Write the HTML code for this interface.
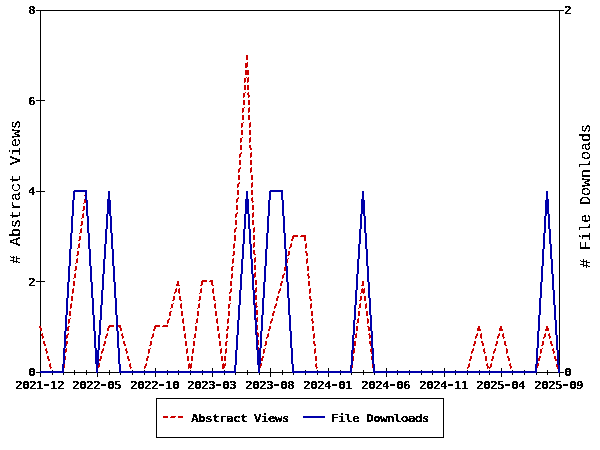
<!DOCTYPE html>
<html><head><meta charset="utf-8"><title>Abstract Views and File Downloads</title>
<style>html,body{margin:0;padding:0;background:#fff;width:600px;height:450px;overflow:hidden}svg{display:block}</style>
</head><body>
<svg width="600" height="450" viewBox="0 0 600 450">
<style>.t{font-family:'DejaVu Sans Mono',monospace;font-weight:bold;font-size:11.2px;letter-spacing:-0.656px;fill:#000}.l{font-family:'Liberation Mono',monospace;font-size:15px;fill:#000}</style>
<defs><filter id="c" color-interpolation-filters="sRGB"><feComponentTransfer><feFuncA type="discrete" tableValues="0 0 1 1 1"/></feComponentTransfer></filter><filter id="d" color-interpolation-filters="sRGB"><feComponentTransfer><feFuncA type="discrete" tableValues="0 0 1 1 1"/></feComponentTransfer></filter></defs>
<rect width="600" height="450" fill="#fff"/>
<path fill="#000" shape-rendering="crispEdges" d="M36 10h528v1h-528zM40 11h1v89h-1zM559 11h1v361h-1zM36 100h9v1h-9zM40 101h1v90h-1zM36 191h9v1h-9zM40 192h1v89h-1zM36 281h9v1h-9zM40 282h1v90h-1zM97 368h1v4h-1zM155 368h1v4h-1zM212 368h1v4h-1zM270 368h1v4h-1zM328 368h1v4h-1zM386 368h1v4h-1zM444 368h1v4h-1zM501 368h1v4h-1zM52 370h1v2h-1zM63 370h1v2h-1zM74 370h1v2h-1zM86 370h1v2h-1zM109 370h1v2h-1zM120 370h1v2h-1zM132 370h1v2h-1zM144 370h1v2h-1zM167 370h1v2h-1zM178 370h1v2h-1zM190 370h1v2h-1zM202 370h1v2h-1zM224 370h1v2h-1zM235 370h1v2h-1zM247 370h1v2h-1zM259 370h1v2h-1zM282 370h1v2h-1zM293 370h1v2h-1zM305 370h1v2h-1zM317 370h1v2h-1zM340 370h1v2h-1zM351 370h1v2h-1zM363 370h1v2h-1zM374 370h1v2h-1zM397 370h1v2h-1zM409 370h1v2h-1zM421 370h1v2h-1zM432 370h1v2h-1zM455 370h1v2h-1zM467 370h1v2h-1zM479 370h1v2h-1zM489 370h1v2h-1zM512 370h1v2h-1zM524 370h1v2h-1zM536 370h1v2h-1zM547 370h1v2h-1zM36 372h528v1h-528zM40 373h1v4h-1zM52 373h1v2h-1zM63 373h1v2h-1zM74 373h1v2h-1zM86 373h1v2h-1zM97 373h1v4h-1zM109 373h1v2h-1zM120 373h1v2h-1zM132 373h1v2h-1zM144 373h1v2h-1zM155 373h1v4h-1zM167 373h1v2h-1zM178 373h1v2h-1zM190 373h1v2h-1zM202 373h1v2h-1zM212 373h1v4h-1zM224 373h1v2h-1zM235 373h1v2h-1zM247 373h1v2h-1zM259 373h1v2h-1zM270 373h1v4h-1zM282 373h1v2h-1zM293 373h1v2h-1zM305 373h1v2h-1zM317 373h1v2h-1zM328 373h1v4h-1zM340 373h1v2h-1zM351 373h1v2h-1zM363 373h1v2h-1zM374 373h1v2h-1zM386 373h1v4h-1zM397 373h1v2h-1zM409 373h1v2h-1zM421 373h1v2h-1zM432 373h1v2h-1zM444 373h1v4h-1zM455 373h1v2h-1zM467 373h1v2h-1zM479 373h1v2h-1zM489 373h1v2h-1zM501 373h1v4h-1zM512 373h1v2h-1zM524 373h1v2h-1zM536 373h1v2h-1zM547 373h1v2h-1zM559 373h1v4h-1zM156 398h288v1h-288zM156 399h1v38h-1zM443 399h1v38h-1zM156 437h288v1h-288z"/>
<path fill="#cc0000" shape-rendering="crispEdges" d="M246 55h2v5h-2zM247 62h1v1h-1zM245 63h3v4h-3zM245 67h2v1h-2zM245 70h4v5h-4zM246 77h1v1h-1zM248 77h1v1h-1zM244 78h2v4h-2zM247 78h2v4h-2zM244 82h1v1h-1zM247 82h1v1h-1zM244 85h2v5h-2zM247 85h2v5h-2zM245 92h1v1h-1zM248 92h1v1h-1zM243 93h2v4h-2zM247 93h2v2h-2zM248 95h2v2h-2zM243 97h1v1h-1zM248 97h1v1h-1zM243 100h2v5h-2zM248 100h2v5h-2zM244 107h1v1h-1zM249 107h1v1h-1zM242 108h2v4h-2zM248 108h2v4h-2zM242 112h1v1h-1zM248 112h1v1h-1zM242 115h2v5h-2zM248 115h2v5h-2zM243 122h1v1h-1zM250 122h1v1h-1zM241 123h2v4h-2zM249 123h2v4h-2zM241 127h1v1h-1zM249 127h1v1h-1zM241 130h2v5h-2zM249 130h2v5h-2zM242 137h1v1h-1zM250 137h1v1h-1zM240 138h2v4h-2zM249 138h2v4h-2zM240 142h1v1h-1zM249 142h1v1h-1zM240 145h2v5h-2zM249 145h2v3h-2zM250 148h2v2h-2zM241 152h1v1h-1zM251 152h1v1h-1zM240 153h2v1h-2zM250 153h2v4h-2zM239 154h2v3h-2zM239 157h1v1h-1zM250 157h1v1h-1zM239 160h2v5h-2zM250 160h2v5h-2zM240 167h1v1h-1zM251 167h1v1h-1zM239 168h2v1h-2zM250 168h2v4h-2zM238 169h2v3h-2zM238 172h1v1h-1zM250 172h1v1h-1zM238 175h2v5h-2zM251 175h2v5h-2zM239 182h1v1h-1zM252 182h1v1h-1zM238 183h2v1h-2zM251 183h2v4h-2zM237 184h2v3h-2zM237 187h1v1h-1zM251 187h1v1h-1zM237 190h2v5h-2zM251 190h2v5h-2zM85 191h2v4h-2zM84 195h3v1h-3zM238 197h1v1h-1zM252 197h1v1h-1zM85 198h2v1h-2zM237 198h2v1h-2zM251 198h2v3h-2zM84 199h3v1h-3zM236 199h2v3h-2zM84 200h4v3h-4zM252 201h2v1h-2zM236 202h1v1h-1zM252 202h1v1h-1zM83 203h1v1h-1zM86 203h1v1h-1zM236 205h2v5h-2zM252 205h2v5h-2zM83 206h2v4h-2zM86 206h2v5h-2zM82 210h2v1h-2zM237 212h1v1h-1zM253 212h1v1h-1zM83 213h1v1h-1zM87 213h1v1h-1zM236 213h2v1h-2zM252 213h2v4h-2zM82 214h2v4h-2zM86 214h2v2h-2zM235 214h2v3h-2zM87 216h2v2h-2zM235 217h1v1h-1zM252 217h1v1h-1zM81 218h1v1h-1zM87 218h1v1h-1zM235 220h2v5h-2zM252 220h2v5h-2zM81 221h2v4h-2zM87 221h2v5h-2zM80 225h2v1h-2zM236 227h1v1h-1zM254 227h1v1h-1zM81 228h1v1h-1zM88 228h1v1h-1zM235 228h2v1h-2zM253 228h2v4h-2zM80 229h2v4h-2zM87 229h2v4h-2zM234 229h2v3h-2zM234 232h1v1h-1zM253 232h1v1h-1zM79 233h1v1h-1zM88 233h1v1h-1zM234 235h2v6h-2zM253 235h2v5h-2zM293 235h5v1h-5zM301 235h5v1h-5zM79 236h2v4h-2zM88 236h2v5h-2zM292 236h6v1h-6zM300 236h6v1h-6zM292 237h2v2h-2zM304 237h2v4h-2zM291 239h2v2h-2zM78 240h2v1h-2zM254 242h1v1h-1zM79 243h1v1h-1zM89 243h1v1h-1zM234 243h1v1h-1zM253 243h2v4h-2zM291 243h1v1h-1zM306 243h1v1h-1zM78 244h2v4h-2zM88 244h2v4h-2zM233 244h2v4h-2zM290 244h2v3h-2zM305 244h2v4h-2zM253 247h1v1h-1zM289 247h2v1h-2zM77 248h1v1h-1zM88 248h1v1h-1zM233 248h1v1h-1zM289 248h1v1h-1zM305 248h1v1h-1zM253 250h2v4h-2zM77 251h2v4h-2zM89 251h2v5h-2zM233 251h2v4h-2zM288 251h2v4h-2zM305 251h2v2h-2zM306 253h2v3h-2zM254 254h2v1h-2zM76 255h2v1h-2zM232 255h2v1h-2zM287 255h2v1h-2zM255 257h1v1h-1zM77 258h1v1h-1zM90 258h1v1h-1zM233 258h1v1h-1zM254 258h2v4h-2zM288 258h1v1h-1zM307 258h1v1h-1zM76 259h2v4h-2zM89 259h2v4h-2zM232 259h2v4h-2zM286 259h2v4h-2zM306 259h2v4h-2zM254 262h1v1h-1zM75 263h1v1h-1zM89 263h1v1h-1zM232 263h1v1h-1zM285 263h1v1h-1zM306 263h1v1h-1zM254 265h2v5h-2zM75 266h2v4h-2zM90 266h2v5h-2zM232 266h2v1h-2zM285 266h2v1h-2zM307 266h2v5h-2zM231 267h2v4h-2zM284 267h2v4h-2zM74 270h2v1h-2zM255 272h1v1h-1zM75 273h1v1h-1zM91 273h1v1h-1zM232 273h1v1h-1zM254 273h2v4h-2zM284 273h1v1h-1zM308 273h1v1h-1zM74 274h2v4h-2zM90 274h2v4h-2zM231 274h2v4h-2zM283 274h2v1h-2zM307 274h2v2h-2zM282 275h2v3h-2zM308 276h2v2h-2zM254 277h1v1h-1zM73 278h1v1h-1zM90 278h1v1h-1zM231 278h1v1h-1zM282 278h1v1h-1zM308 278h1v1h-1zM202 280h5v1h-5zM210 280h3v1h-3zM255 280h2v5h-2zM73 281h2v5h-2zM90 281h2v1h-2zM177 281h2v3h-2zM201 281h6v1h-6zM209 281h4v1h-4zM230 281h2v5h-2zM281 281h2v2h-2zM308 281h2v5h-2zM362 281h2v4h-2zM91 282h2v4h-2zM201 282h2v3h-2zM211 282h2v3h-2zM280 283h2v3h-2zM176 284h3v1h-3zM176 285h4v1h-4zM200 285h2v1h-2zM212 285h2v1h-2zM361 285h3v1h-3zM256 287h1v1h-1zM73 288h1v1h-1zM92 288h1v1h-1zM176 288h1v1h-1zM179 288h1v1h-1zM201 288h1v1h-1zM213 288h1v1h-1zM231 288h1v1h-1zM255 288h2v4h-2zM280 288h1v1h-1zM310 288h1v1h-1zM362 288h1v1h-1zM364 288h1v1h-1zM72 289h2v4h-2zM91 289h2v4h-2zM175 289h2v3h-2zM178 289h2v4h-2zM200 289h2v4h-2zM212 289h2v4h-2zM230 289h2v3h-2zM279 289h2v2h-2zM309 289h2v4h-2zM361 289h4v4h-4zM278 291h2v2h-2zM174 292h2v1h-2zM229 292h2v1h-2zM255 292h1v1h-1zM72 293h1v1h-1zM91 293h1v1h-1zM174 293h1v1h-1zM179 293h1v1h-1zM199 293h1v1h-1zM213 293h1v1h-1zM229 293h1v1h-1zM278 293h1v1h-1zM309 293h1v1h-1zM360 293h1v1h-1zM363 293h1v1h-1zM255 295h2v5h-2zM71 296h2v5h-2zM91 296h2v2h-2zM173 296h2v4h-2zM179 296h2v4h-2zM199 296h2v4h-2zM213 296h2v4h-2zM229 296h2v5h-2zM277 296h2v2h-2zM309 296h2v3h-2zM360 296h2v4h-2zM364 296h2v5h-2zM92 298h2v3h-2zM276 298h2v3h-2zM310 299h2v2h-2zM172 300h2v1h-2zM180 300h2v1h-2zM198 300h2v1h-2zM214 300h2v1h-2zM359 300h2v1h-2zM256 302h1v1h-1zM71 303h1v1h-1zM93 303h1v1h-1zM173 303h1v1h-1zM181 303h1v1h-1zM199 303h1v1h-1zM215 303h1v1h-1zM230 303h1v1h-1zM255 303h2v3h-2zM276 303h1v1h-1zM311 303h1v1h-1zM360 303h1v1h-1zM366 303h1v1h-1zM70 304h2v4h-2zM92 304h2v4h-2zM171 304h2v4h-2zM180 304h2v4h-2zM198 304h2v4h-2zM214 304h2v4h-2zM228 304h2v4h-2zM275 304h2v2h-2zM310 304h2v4h-2zM359 304h2v4h-2zM365 304h2v4h-2zM256 306h2v1h-2zM274 306h2v2h-2zM256 307h1v1h-1zM70 308h1v1h-1zM92 308h1v1h-1zM170 308h1v1h-1zM181 308h1v1h-1zM197 308h1v1h-1zM215 308h1v1h-1zM228 308h1v1h-1zM274 308h1v1h-1zM310 308h1v1h-1zM358 308h1v1h-1zM365 308h1v1h-1zM256 310h2v5h-2zM69 311h2v5h-2zM92 311h2v4h-2zM170 311h2v1h-2zM181 311h2v5h-2zM197 311h2v5h-2zM215 311h2v5h-2zM228 311h2v5h-2zM273 311h2v2h-2zM311 311h2v5h-2zM358 311h2v5h-2zM366 311h2v5h-2zM169 312h2v4h-2zM272 313h2v3h-2zM93 315h2v1h-2zM257 317h1v1h-1zM70 318h1v1h-1zM94 318h1v1h-1zM169 318h1v1h-1zM183 318h1v1h-1zM197 318h1v1h-1zM217 318h1v1h-1zM228 318h1v1h-1zM256 318h2v4h-2zM272 318h1v1h-1zM312 318h1v1h-1zM358 318h1v1h-1zM367 318h1v1h-1zM68 319h2v4h-2zM93 319h2v4h-2zM168 319h2v1h-2zM182 319h2v4h-2zM196 319h2v4h-2zM216 319h2v4h-2zM227 319h2v4h-2zM271 319h2v2h-2zM311 319h2v2h-2zM357 319h2v4h-2zM367 319h2v4h-2zM167 320h2v3h-2zM270 321h2v2h-2zM312 321h2v2h-2zM256 322h1v1h-1zM68 323h1v1h-1zM93 323h1v1h-1zM167 323h1v1h-1zM183 323h1v1h-1zM195 323h1v1h-1zM217 323h1v1h-1zM227 323h1v1h-1zM270 323h1v1h-1zM312 323h1v1h-1zM356 323h1v1h-1zM367 323h1v1h-1zM109 325h5v1h-5zM117 325h4v1h-4zM155 325h5v1h-5zM163 325h5v1h-5zM256 325h2v5h-2zM39 326h2v2h-2zM68 326h2v1h-2zM93 326h2v5h-2zM108 326h6v1h-6zM116 326h5v1h-5zM154 326h6v1h-6zM162 326h6v1h-6zM183 326h2v5h-2zM195 326h2v5h-2zM217 326h2v5h-2zM227 326h2v3h-2zM269 326h2v3h-2zM312 326h2v5h-2zM356 326h2v5h-2zM367 326h2v1h-2zM478 326h2v2h-2zM500 326h2v2h-2zM546 326h2v2h-2zM67 327h2v4h-2zM108 327h2v1h-2zM119 327h2v1h-2zM154 327h2v2h-2zM368 327h2v4h-2zM40 328h2v3h-2zM107 328h2v3h-2zM120 328h2v3h-2zM477 328h3v1h-3zM499 328h3v1h-3zM546 328h3v1h-3zM153 329h2v2h-2zM226 329h2v2h-2zM268 329h2v2h-2zM477 329h4v2h-4zM499 329h4v2h-4zM545 329h4v2h-4zM257 332h1v1h-1zM42 333h1v1h-1zM68 333h1v1h-1zM95 333h1v1h-1zM107 333h1v1h-1zM122 333h1v1h-1zM153 333h1v1h-1zM185 333h1v1h-1zM195 333h1v1h-1zM219 333h1v1h-1zM227 333h1v1h-1zM257 333h2v4h-2zM268 333h1v1h-1zM314 333h1v1h-1zM356 333h1v1h-1zM369 333h1v1h-1zM477 333h1v1h-1zM481 333h1v1h-1zM499 333h1v1h-1zM503 333h1v1h-1zM545 333h1v1h-1zM549 333h1v1h-1zM41 334h2v2h-2zM67 334h2v1h-2zM94 334h2v4h-2zM106 334h2v2h-2zM121 334h2v2h-2zM152 334h2v3h-2zM184 334h2v4h-2zM194 334h2v4h-2zM218 334h2v4h-2zM226 334h2v4h-2zM267 334h2v3h-2zM313 334h2v4h-2zM355 334h2v4h-2zM368 334h2v1h-2zM476 334h2v2h-2zM480 334h2v4h-2zM498 334h2v2h-2zM502 334h2v3h-2zM544 334h2v3h-2zM548 334h2v2h-2zM66 335h2v3h-2zM369 335h2v3h-2zM42 336h2v2h-2zM105 336h2v2h-2zM122 336h2v2h-2zM475 336h2v2h-2zM497 336h2v2h-2zM549 336h2v2h-2zM151 337h2v1h-2zM257 337h1v1h-1zM266 337h2v1h-2zM503 337h2v1h-2zM543 337h2v1h-2zM42 338h1v1h-1zM66 338h1v1h-1zM94 338h1v1h-1zM105 338h1v1h-1zM122 338h1v1h-1zM151 338h1v1h-1zM185 338h1v1h-1zM193 338h1v1h-1zM219 338h1v1h-1zM226 338h1v1h-1zM266 338h1v1h-1zM313 338h1v1h-1zM354 338h1v1h-1zM369 338h1v1h-1zM475 338h1v1h-1zM481 338h1v1h-1zM497 338h1v1h-1zM503 338h1v1h-1zM543 338h1v1h-1zM549 338h1v1h-1zM257 340h2v5h-2zM43 341h2v3h-2zM66 341h2v3h-2zM94 341h2v5h-2zM104 341h2v3h-2zM123 341h2v3h-2zM150 341h2v4h-2zM185 341h2v5h-2zM193 341h2v5h-2zM219 341h2v5h-2zM226 341h2v1h-2zM265 341h2v4h-2zM313 341h2v3h-2zM354 341h2v5h-2zM369 341h2v3h-2zM474 341h2v3h-2zM481 341h2v2h-2zM496 341h2v3h-2zM504 341h2v4h-2zM542 341h2v4h-2zM550 341h2v3h-2zM225 342h2v4h-2zM482 343h2v3h-2zM44 344h2v2h-2zM65 344h2v2h-2zM103 344h2v2h-2zM124 344h2v2h-2zM314 344h2v2h-2zM370 344h2v2h-2zM473 344h2v2h-2zM495 344h2v2h-2zM551 344h2v2h-2zM149 345h2v1h-2zM264 345h2v1h-2zM505 345h2v1h-2zM541 345h2v1h-2zM258 347h1v1h-1zM46 348h1v1h-1zM66 348h1v1h-1zM96 348h1v1h-1zM103 348h1v1h-1zM126 348h1v1h-1zM150 348h1v1h-1zM187 348h1v1h-1zM193 348h1v1h-1zM221 348h1v1h-1zM226 348h1v1h-1zM257 348h2v4h-2zM265 348h1v1h-1zM315 348h1v1h-1zM354 348h1v1h-1zM371 348h1v1h-1zM473 348h1v1h-1zM484 348h1v1h-1zM495 348h1v1h-1zM506 348h1v1h-1zM542 348h1v1h-1zM553 348h1v1h-1zM45 349h2v2h-2zM65 349h2v3h-2zM95 349h2v4h-2zM102 349h2v2h-2zM125 349h2v2h-2zM148 349h2v4h-2zM186 349h2v4h-2zM192 349h2v4h-2zM220 349h2v4h-2zM225 349h2v4h-2zM263 349h2v4h-2zM314 349h2v4h-2zM353 349h2v4h-2zM370 349h2v3h-2zM472 349h2v2h-2zM483 349h2v3h-2zM494 349h2v2h-2zM506 349h2v4h-2zM540 349h2v4h-2zM552 349h2v2h-2zM46 351h2v2h-2zM101 351h2v2h-2zM126 351h2v2h-2zM471 351h2v2h-2zM493 351h2v2h-2zM553 351h2v2h-2zM64 352h2v1h-2zM257 352h1v1h-1zM371 352h2v1h-2zM484 352h2v1h-2zM46 353h1v1h-1zM64 353h1v1h-1zM95 353h1v1h-1zM101 353h1v1h-1zM126 353h1v1h-1zM148 353h1v1h-1zM186 353h1v1h-1zM192 353h1v1h-1zM220 353h1v1h-1zM225 353h1v1h-1zM263 353h1v1h-1zM314 353h1v1h-1zM353 353h1v1h-1zM371 353h1v1h-1zM471 353h1v1h-1zM484 353h1v1h-1zM493 353h1v1h-1zM506 353h1v1h-1zM540 353h1v1h-1zM553 353h1v1h-1zM257 355h2v4h-2zM47 356h2v3h-2zM64 356h2v4h-2zM95 356h2v5h-2zM100 356h2v3h-2zM127 356h2v3h-2zM147 356h2v2h-2zM187 356h2v5h-2zM191 356h2v5h-2zM221 356h2v5h-2zM224 356h2v5h-2zM262 356h2v2h-2zM315 356h2v5h-2zM352 356h2v5h-2zM371 356h2v4h-2zM470 356h2v3h-2zM485 356h2v5h-2zM492 356h2v3h-2zM507 356h2v2h-2zM539 356h2v2h-2zM554 356h2v3h-2zM146 358h2v3h-2zM261 358h2v3h-2zM508 358h2v3h-2zM538 358h2v3h-2zM48 359h2v2h-2zM99 359h2v2h-2zM128 359h2v2h-2zM258 359h2v1h-2zM469 359h2v2h-2zM491 359h2v2h-2zM555 359h2v2h-2zM63 360h2v1h-2zM372 360h2v1h-2zM259 362h1v1h-1zM50 363h1v1h-1zM64 363h1v1h-1zM96 363h1v1h-1zM99 363h1v1h-1zM130 363h1v1h-1zM146 363h1v1h-1zM189 363h1v1h-1zM191 363h1v1h-1zM223 363h1v1h-1zM225 363h1v1h-1zM258 363h2v1h-2zM261 363h1v1h-1zM316 363h1v1h-1zM352 363h1v1h-1zM373 363h1v1h-1zM469 363h1v1h-1zM487 363h1v1h-1zM491 363h1v1h-1zM510 363h1v1h-1zM538 363h1v1h-1zM557 363h1v1h-1zM49 364h2v3h-2zM63 364h2v4h-2zM96 364h4v3h-4zM129 364h2v3h-2zM145 364h2v2h-2zM188 364h4v4h-4zM222 364h4v2h-4zM258 364h4v2h-4zM315 364h2v3h-2zM351 364h2v4h-2zM372 364h2v4h-2zM468 364h2v3h-2zM486 364h2v2h-2zM490 364h2v3h-2zM509 364h2v2h-2zM537 364h2v2h-2zM556 364h2v3h-2zM144 366h2v2h-2zM222 366h3v2h-3zM258 366h3v2h-3zM487 366h2v1h-2zM510 366h2v2h-2zM536 366h2v2h-2zM50 367h2v1h-2zM96 367h3v1h-3zM130 367h2v1h-2zM316 367h2v1h-2zM467 367h2v1h-2zM487 367h4v1h-4zM557 367h2v1h-2zM50 368h1v1h-1zM62 368h1v1h-1zM96 368h2v1h-2zM130 368h1v1h-1zM144 368h1v1h-1zM188 368h1v1h-1zM190 368h1v1h-1zM222 368h2v1h-2zM259 368h1v1h-1zM316 368h1v1h-1zM351 368h1v1h-1zM373 368h1v1h-1zM467 368h1v1h-1zM487 368h1v1h-1zM489 368h1v1h-1zM510 368h1v1h-1zM536 368h1v1h-1zM557 368h1v1h-1zM258 370h2v3h-2zM51 371h6v2h-6zM60 371h4v1h-4zM96 371h2v2h-2zM131 371h6v2h-6zM140 371h5v1h-5zM189 371h2v2h-2zM223 371h2v2h-2zM316 371h6v2h-6zM325 371h8v1h-8zM336 371h9v1h-9zM348 371h4v1h-4zM373 371h6v2h-6zM382 371h9v1h-9zM394 371h8v1h-8zM405 371h9v1h-9zM417 371h9v1h-9zM429 371h8v1h-8zM440 371h9v1h-9zM452 371h8v1h-8zM463 371h5v1h-5zM488 371h2v2h-2zM511 371h6v2h-6zM520 371h9v1h-9zM532 371h5v1h-5zM558 371h2v2h-2zM59 372h5v1h-5zM139 372h6v1h-6zM324 372h9v1h-9zM335 372h10v1h-10zM347 372h5v1h-5zM381 372h10v1h-10zM393 372h9v1h-9zM404 372h10v1h-10zM416 372h10v1h-10zM428 372h9v1h-9zM439 372h10v1h-10zM451 372h9v1h-9zM462 372h6v1h-6zM519 372h10v1h-10zM531 372h6v1h-6zM163 416h5v2h-5zM171 416h5v1h-5zM178 416h5v2h-5zM170 417h5v1h-5z"/>
<path fill="#0000aa" shape-rendering="crispEdges" d="M74 190h13v1h-13zM270 190h13v1h-13zM73 191h14v1h-14zM108 191h2v8h-2zM246 191h2v8h-2zM269 191h14v1h-14zM362 191h2v8h-2zM546 191h2v8h-2zM73 192h2v8h-2zM85 192h2v8h-2zM269 192h2v8h-2zM281 192h2v8h-2zM107 199h3v1h-3zM245 199h4v15h-4zM361 199h3v1h-3zM546 199h3v1h-3zM72 200h2v16h-2zM86 200h2v16h-2zM107 200h4v14h-4zM268 200h2v16h-2zM282 200h2v16h-2zM361 200h4v14h-4zM545 200h4v14h-4zM106 214h2v15h-2zM109 214h2v2h-2zM244 214h2v15h-2zM248 214h2v15h-2zM360 214h2v15h-2zM363 214h2v2h-2zM545 214h2v2h-2zM548 214h2v15h-2zM71 216h2v17h-2zM87 216h2v17h-2zM110 216h2v17h-2zM267 216h2v17h-2zM283 216h2v17h-2zM364 216h2v17h-2zM544 216h2v17h-2zM105 229h2v15h-2zM243 229h2v15h-2zM249 229h2v15h-2zM359 229h2v15h-2zM549 229h2v15h-2zM70 233h2v16h-2zM88 233h2v16h-2zM111 233h2v16h-2zM266 233h2v16h-2zM284 233h2v16h-2zM365 233h2v16h-2zM543 233h2v16h-2zM104 244h2v15h-2zM242 244h2v15h-2zM250 244h2v15h-2zM358 244h2v15h-2zM550 244h2v15h-2zM69 249h2v17h-2zM89 249h2v17h-2zM112 249h2v17h-2zM265 249h2v17h-2zM285 249h2v17h-2zM366 249h2v17h-2zM542 249h2v17h-2zM103 259h2v15h-2zM241 259h2v15h-2zM251 259h2v15h-2zM357 259h2v15h-2zM551 259h2v15h-2zM68 266h2v16h-2zM90 266h2v16h-2zM113 266h2v16h-2zM264 266h2v16h-2zM286 266h2v16h-2zM367 266h2v16h-2zM541 266h2v16h-2zM102 274h2v16h-2zM240 274h2v16h-2zM252 274h2v16h-2zM356 274h2v16h-2zM552 274h2v16h-2zM67 282h2v16h-2zM91 282h2v16h-2zM114 282h2v16h-2zM263 282h2v16h-2zM287 282h2v16h-2zM368 282h2v16h-2zM540 282h2v16h-2zM101 290h2v15h-2zM239 290h2v15h-2zM253 290h2v15h-2zM355 290h2v15h-2zM553 290h2v15h-2zM66 298h2v17h-2zM92 298h2v17h-2zM115 298h2v17h-2zM262 298h2v17h-2zM288 298h2v17h-2zM369 298h2v17h-2zM539 298h2v17h-2zM100 305h2v15h-2zM238 305h2v15h-2zM254 305h2v15h-2zM354 305h2v15h-2zM554 305h2v15h-2zM65 315h2v16h-2zM93 315h2v16h-2zM116 315h2v16h-2zM261 315h2v16h-2zM289 315h2v16h-2zM370 315h2v16h-2zM538 315h2v16h-2zM99 320h2v15h-2zM237 320h2v15h-2zM255 320h2v15h-2zM353 320h2v15h-2zM555 320h2v15h-2zM64 331h2v17h-2zM94 331h2v17h-2zM117 331h2v17h-2zM260 331h2v17h-2zM290 331h2v17h-2zM371 331h2v17h-2zM537 331h2v17h-2zM98 335h2v15h-2zM236 335h2v15h-2zM256 335h2v15h-2zM352 335h2v15h-2zM556 335h2v15h-2zM63 348h2v16h-2zM95 348h2v2h-2zM118 348h2v16h-2zM259 348h2v2h-2zM291 348h2v16h-2zM372 348h2v16h-2zM536 348h2v16h-2zM95 350h4v14h-4zM235 350h2v15h-2zM257 350h4v14h-4zM351 350h2v15h-2zM557 350h2v15h-2zM62 364h2v7h-2zM96 364h3v1h-3zM119 364h2v7h-2zM257 364h3v1h-3zM292 364h2v7h-2zM373 364h2v7h-2zM535 364h2v7h-2zM96 365h2v8h-2zM234 365h2v6h-2zM258 365h2v8h-2zM350 365h2v6h-2zM558 365h2v8h-2zM40 371h24v2h-24zM119 371h117v2h-117zM292 371h60v2h-60zM373 371h164v2h-164zM303 416h22v2h-22z"/>
<g filter="url(#c)">
<text transform="translate(35 376) scale(1.15 1)" text-anchor="end" class="t">0</text>
<text transform="translate(35 286) scale(1.15 1)" text-anchor="end" class="t">2</text>
<text transform="translate(35 195) scale(1.15 1)" text-anchor="end" class="t">4</text>
<text transform="translate(35 105) scale(1.15 1)" text-anchor="end" class="t">6</text>
<text transform="translate(35 14) scale(1.15 1)" text-anchor="end" class="t">8</text>
<text transform="translate(564 376) scale(1.15 1)" class="t">0</text>
<text transform="translate(564 14) scale(1.15 1)" class="t">2</text>
<text transform="translate(15 389) scale(1.15 1)" class="t">2021<tspan dx="-1.13" style="font-size:14px">-</tspan><tspan dx="-0.556">12</tspan></text>
<text transform="translate(72 389) scale(1.15 1)" class="t">2022<tspan dx="-1.13" style="font-size:14px">-</tspan><tspan dx="-0.556">05</tspan></text>
<text transform="translate(130 389) scale(1.15 1)" class="t">2022<tspan dx="-1.13" style="font-size:14px">-</tspan><tspan dx="-0.556">10</tspan></text>
<text transform="translate(187 389) scale(1.15 1)" class="t">2023<tspan dx="-1.13" style="font-size:14px">-</tspan><tspan dx="-0.556">03</tspan></text>
<text transform="translate(245 389) scale(1.15 1)" class="t">2023<tspan dx="-1.13" style="font-size:14px">-</tspan><tspan dx="-0.556">08</tspan></text>
<text transform="translate(303 389) scale(1.15 1)" class="t">2024<tspan dx="-1.13" style="font-size:14px">-</tspan><tspan dx="-0.556">01</tspan></text>
<text transform="translate(361 389) scale(1.15 1)" class="t">2024<tspan dx="-1.13" style="font-size:14px">-</tspan><tspan dx="-0.556">06</tspan></text>
<text transform="translate(419 389) scale(1.15 1)" class="t">2024<tspan dx="-1.13" style="font-size:14px">-</tspan><tspan dx="-0.556">11</tspan></text>
<text transform="translate(476 389) scale(1.15 1)" class="t">2025<tspan dx="-1.13" style="font-size:14px">-</tspan><tspan dx="-0.556">04</tspan></text>
<text transform="translate(534 389) scale(1.15 1)" class="t">2025<tspan dx="-1.13" style="font-size:14px">-</tspan><tspan dx="-0.556">09</tspan></text>
<text transform="translate(191 422) scale(1.15 1)" class="t">Abstract Views</text>
<text transform="translate(331 422) scale(1.15 1)" class="t">File Downloads</text>
</g>
<g filter="url(#d)">
<text transform="translate(20 264) rotate(-90)" class="l"># Abstract Views</text>
<text transform="translate(590 268) rotate(-90)" class="l"># File Downloads</text>
</g>
</svg>
</body></html>
